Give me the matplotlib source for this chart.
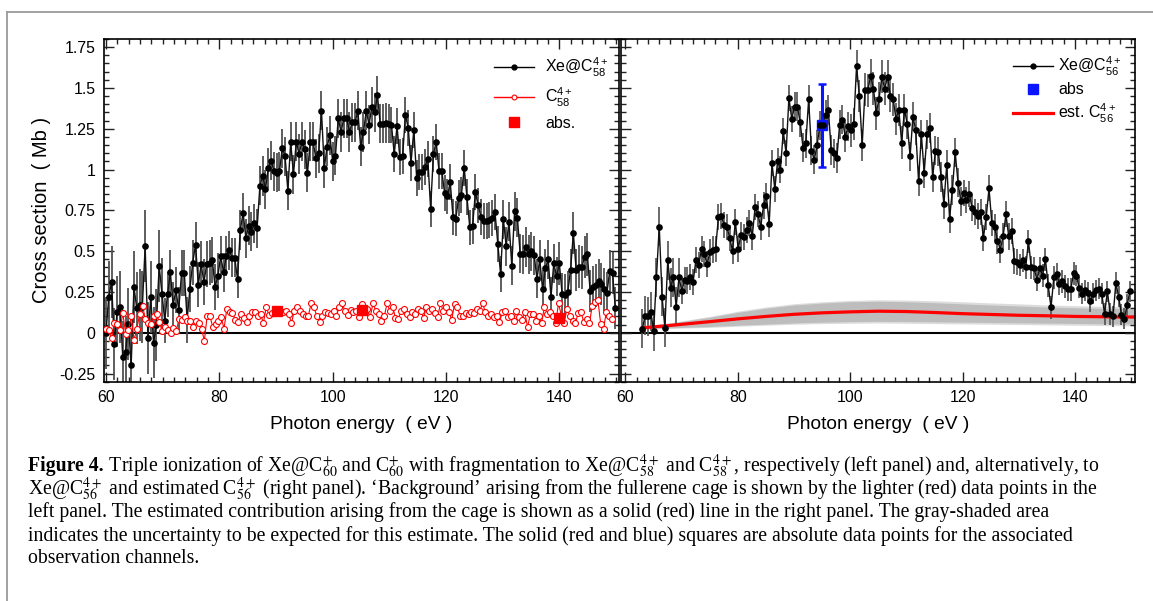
import numpy as np
import matplotlib
matplotlib.use("Agg")
import matplotlib.pyplot as plt
from matplotlib.lines import Line2D
from matplotlib.ticker import MultipleLocator, FuncFormatter

plt.rcParams['font.family'] = ['Liberation Sans', 'DejaVu Sans']
plt.rcParams['mathtext.fontset'] = 'custom'
plt.rcParams['mathtext.rm'] = 'Liberation Sans'
plt.rcParams['mathtext.it'] = 'Liberation Sans:italic'
plt.rcParams['axes.unicode_minus'] = False

# ---------------- data ----------------
left_xe_y = [0.0, 0.22, 0.31, -0.07, 0.13, 0.16, -0.15, -0.12, 0.055, -0.2,
             0.28, 0.15, 0.17, 0.16, 0.53, -0.03, 0.22, -0.06, 0.045, 0.41,
             0.24, 0.075, 0.235, 0.37, 0.17, 0.26, 0.14, 0.365, 0.365, 0.08,
             0.27, 0.43, 0.54, 0.295, 0.42, 0.31, 0.42, 0.43, 0.445, 0.28,
             0.35, 0.47, 0.37, 0.47, 0.505, 0.46, 0.46, 0.33, 0.63, 0.735,
             0.58, 0.655, 0.62, 0.67, 0.64, 0.9, 0.96, 0.88, 1.01, 1.055,
             0.99, 0.98, 0.99, 1.13, 1.08, 0.87, 1.17, 0.97, 1.17, 1.095,
             1.17, 1.125, 0.98, 1.17, 1.17, 1.07, 1.1, 1.36, 1.01, 1.14,
             1.21, 1.05, 1.085, 1.315, 1.23, 1.315, 1.315, 1.23, 1.29, 1.29,
             1.36, 1.14, 1.23, 1.36, 1.275, 1.385, 1.35, 1.455, 1.28, 1.28,
             1.285, 1.28, 1.275, 1.095, 1.265, 1.075, 1.085, 1.335, 1.255, 1.04,
             1.245, 0.95, 0.985, 0.985, 1.015, 1.065, 0.76, 1.095, 1.17, 0.99,
             0.99, 0.855, 0.835, 0.925, 0.71, 0.70, 0.825, 0.845, 1.01, 0.83,
             0.645, 0.655, 0.86, 0.78, 0.71, 0.685, 0.685, 0.69, 0.705, 0.74,
             0.545, 0.36, 0.695, 0.53, 0.68, 0.41, 0.745, 0.705, 0.485, 0.48,
             0.525, 0.48, 0.5, 0.475, 0.33, 0.45, 0.265, 0.395, 0.45, 0.22,
             0.425, 0.345, 0.425, 0.235, 0.23, 0.25, 0.385, 0.61, 0.385, 0.405,
             0.4, 0.465, 0.48, 0.255, 0.28, 0.29, 0.32, 0.3, 0.265, 0.245,
             0.38, 0.365, 0.15]
left_xe_range = (60.0, 149.9)
left_xe_err_bins = [0.22, 0.14, 0.12, 0.12, 0.12, 0.11, 0.11, 0.12, 0.13, 0.14]

left_c58_y = [0.025, 0.015, -0.035, 0.06, 0.055, 0.015, 0.12, -0.005, 0.015, 0.1,
              -0.045, 0.025, 0.115, 0.165, 0.085, 0.06, 0.055, 0.105, 0.115, 0.065,
              0.01, 0.035, 0.015, 0.0, 0.03, 0.01, 0.085, 0.08, 0.095, 0.075,
              0.07, 0.035, 0.075, 0.06, 0.025, -0.05, 0.105, 0.1, 0.035, 0.055,
              0.075, 0.095, 0.025, 0.145, 0.125, 0.12, 0.08, 0.065, 0.115, 0.09,
              0.065, 0.105, 0.125, 0.125, 0.1, 0.115, 0.06, 0.155, 0.11, 0.12,
              0.125, 0.14, 0.135, 0.125, 0.135, 0.115, 0.06, 0.135, 0.16, 0.135,
              0.115, 0.1, 0.105, 0.18, 0.16, 0.1, 0.065, 0.1, 0.125, 0.12,
              0.115, 0.135, 0.105, 0.16, 0.18, 0.135, 0.11, 0.14, 0.125, 0.135,
              0.095, 0.175, 0.125, 0.145, 0.095, 0.18, 0.135, 0.115, 0.075, 0.1,
              0.18, 0.135, 0.16, 0.09, 0.085, 0.135, 0.145, 0.115, 0.095, 0.125,
              0.115, 0.145, 0.135, 0.09, 0.16, 0.135, 0.145, 0.12, 0.095, 0.18,
              0.135, 0.16, 0.125, 0.08, 0.175, 0.155, 0.105, 0.1, 0.12, 0.115,
              0.125, 0.12, 0.145, 0.135, 0.18, 0.125, 0.105, 0.115, 0.095, 0.105,
              0.065, 0.125, 0.135, 0.095, 0.105, 0.075, 0.135, 0.095, 0.08, 0.125,
              0.035, 0.115, 0.115, 0.075, 0.105, 0.06, 0.16, 0.115, 0.13, 0.105,
              0.06, 0.18, 0.105, 0.06, 0.145, 0.105, 0.075, 0.06, 0.12, 0.125,
              0.065, 0.085, 0.06, 0.165, 0.19, 0.2, 0.055, 0.025, 0.125, 0.105,
              0.085]
left_c58_range = (60.0, 149.3)

left_abs_x = [90.2, 105.2, 140.0]
left_abs_y = [0.132, 0.138, 0.088]

right_xe_y = [0.025, 0.105, 0.1, 0.13, 0.01, 0.34, 0.65, 0.22, 0.03, 0.445,
              0.275, 0.34, 0.16, 0.34, 0.255, 0.325, 0.32, 0.34, 0.31, 0.445,
              0.415, 0.515, 0.48, 0.42, 0.495, 0.51, 0.515, 0.71, 0.715, 0.66,
              0.65, 0.58, 0.5, 0.68, 0.515, 0.6, 0.585, 0.63, 0.67, 0.59,
              0.77, 0.725, 0.65, 0.78, 0.84, 0.665, 1.04, 0.88, 1.055, 1.0,
              1.235, 1.1, 1.44, 1.31, 1.385, 1.385, 1.29, 1.135, 1.16, 1.43,
              1.115, 1.06, 1.15, 1.27, 1.275, 1.335, 1.365, 1.12, 1.1, 1.07,
              1.275, 1.305, 1.2, 1.265, 1.24, 1.28, 1.635, 1.45, 1.15, 1.49,
              1.485, 1.575, 1.495, 1.345, 1.435, 1.57, 1.495, 1.57, 1.45, 1.43,
              1.31, 1.365, 1.165, 1.365, 1.28, 1.08, 1.325, 1.24, 0.93, 1.215,
              0.98, 1.215, 1.255, 0.955, 1.115, 1.11, 0.955, 0.79, 1.03, 0.7,
              0.875, 1.105, 0.92, 0.805, 0.855, 0.815, 0.85, 0.765, 0.74, 0.715,
              0.74, 0.58, 0.71, 0.885, 0.67, 0.645, 0.565, 0.51, 0.59, 0.725,
              0.59, 0.625, 0.44, 0.435, 0.415, 0.445, 0.4, 0.56, 0.4, 0.395,
              0.325, 0.395, 0.35, 0.45, 0.29, 0.155, 0.34, 0.36, 0.3, 0.315,
              0.285, 0.265, 0.265, 0.365, 0.35, 0.275, 0.24, 0.26, 0.245, 0.195,
              0.24, 0.26, 0.27, 0.24, 0.115, 0.255, 0.115, 0.1, 0.305, 0.22,
              0.11, 0.085, 0.17, 0.255]
right_xe_range = (63.0, 149.8)
right_xe_err_bins = [0.12, 0.08, 0.08, 0.09, 0.1, 0.09, 0.08, 0.07, 0.065, 0.065]

right_abs_x = [95.0]
right_abs_y = [1.272]
right_abs_err = [0.255]

est_x = [63, 68, 75, 80, 85, 90, 95, 100, 105, 110, 115, 120, 125, 130, 135, 140, 145, 150.7]
est_y = [0.03, 0.045, 0.068, 0.085, 0.1, 0.113, 0.122, 0.128, 0.132, 0.13, 0.124,
         0.117, 0.112, 0.107, 0.104, 0.1, 0.098, 0.096]
band_hi = [0.04, 0.058, 0.095, 0.125, 0.15, 0.17, 0.182, 0.19, 0.193, 0.19, 0.184,
           0.177, 0.17, 0.164, 0.158, 0.153, 0.149, 0.146]
band_lo = [0.025, 0.03, 0.038, 0.046, 0.053, 0.06, 0.065, 0.068, 0.07, 0.069, 0.067,
           0.065, 0.063, 0.061, 0.059, 0.057, 0.055, 0.053]
band2_hi = [0.042, 0.062, 0.1, 0.132, 0.158, 0.178, 0.19, 0.198, 0.202, 0.2, 0.196,
            0.19, 0.183, 0.177, 0.171, 0.166, 0.162, 0.158]
band2_lo = [0.023, 0.027, 0.033, 0.04, 0.046, 0.052, 0.056, 0.058, 0.06, 0.058, 0.056,
            0.054, 0.052, 0.05, 0.048, 0.046, 0.044, 0.042]

yticks = [-0.25, 0, 0.25, 0.5, 0.75, 1, 1.25, 1.5, 1.75]
xticks = [60, 80, 100, 120, 140]

# ---------------- figure ----------------
W, H = 1153, 601
fig = plt.figure(figsize=(W / 100, H / 100), dpi=100)


def px_axes(x0, y0, x1, y1):
    return fig.add_axes([x0 / W, 1 - y1 / H, (x1 - x0) / W, (y1 - y0) / H])


axL = px_axes(103.7, 39, 619.3, 381.7)
axR = px_axes(621, 39, 1135, 381.7)

# outer gray frame
fig.add_artist(Line2D([7 / W, 7 / W], [0, 1 - 12 / H], color='#9a9a9a', lw=1.3,
                      transform=fig.transFigure))
fig.add_artist(Line2D([7 / W, 1], [1 - 12 / H, 1 - 12 / H], color='#9a9a9a', lw=1.3,
                      transform=fig.transFigure))


def bin_err(x, bins):
    idx = np.clip(((np.asarray(x) - 60) // 10).astype(int), 0, len(bins) - 1)
    return np.asarray(bins)[idx]


def style_axes(ax, xlim, show_ylabels):
    ax.set_xlim(*xlim)
    ax.set_ylim(-0.3, 1.8)
    ax.set_xticks(xticks)
    ax.set_yticks(yticks)
    ax.xaxis.set_minor_locator(MultipleLocator(2))
    ax.yaxis.set_minor_locator(MultipleLocator(0.05))
    ax.yaxis.set_major_formatter(FuncFormatter(lambda v, p: '%g' % v))
    ax.tick_params(which='both', direction='in', top=True, right=True,
                   labelsize=11.4, width=1.0, color='#222222')
    ax.tick_params(which='major', length=7, pad=6)
    ax.tick_params(which='minor', length=3.5)
    if not show_ylabels:
        ax.tick_params(axis='y', labelleft=False)
    for s in ax.spines.values():
        s.set_linewidth(1.2)
    ax.axhline(0, color='black', lw=1.5, zorder=1.5)
    ax.set_xlabel('Photon energy  ( eV )', fontsize=13.8, labelpad=8)


# ---- left panel ----
xl = np.linspace(left_xe_range[0], left_xe_range[1], len(left_xe_y))
xc = np.linspace(left_c58_range[0], left_c58_range[1], len(left_c58_y))
axL.errorbar(xl, left_xe_y, yerr=bin_err(xl, left_xe_err_bins), fmt='none',
             ecolor='#505050', elinewidth=1.3, zorder=2)
axL.plot(xl, left_xe_y, '-', color='#111111', lw=1.0, zorder=3)
axL.plot(xl, left_xe_y, 'o', color='black', ms=4.8, mew=0, zorder=4)
axL.plot(xc, left_c58_y, '-', color='red', lw=0.8, zorder=5)
axL.plot(xc, left_c58_y, 'o', color='red', mfc='white', ms=4.3, mew=0.8, zorder=6)
axL.plot(left_abs_x, left_abs_y, 's', color='red', ms=7.5, zorder=7)
style_axes(axL, (59.6, 150.6), True)
axL.set_ylabel('Cross section  ( Mb )', fontsize=14.5, labelpad=6)

hL = [Line2D([], [], color='black', lw=1.0, marker='o', ms=3.5),
      Line2D([], [], color='red', lw=1.0, marker='o', ms=3.5, mfc='white', mew=0.8),
      Line2D([], [], color='red', lw=0, marker='s', ms=7.5)]
labL = ['Xe@C$_{58}^{4+}$', 'C$_{58}^{4+}$', 'abs.']
legL = axL.legend(hL, labL, loc='upper left', bbox_to_anchor=(0.757, 0.95),
                  frameon=False, fontsize=11.5, handlelength=2.5, handletextpad=0.7,
                  labelspacing=0.42, borderpad=0, borderaxespad=0)

# ---- right panel ----
xr = np.linspace(right_xe_range[0], right_xe_range[1], len(right_xe_y))
axR.fill_between(est_x, band2_lo, band2_hi, color='#dcdcdc', lw=0, zorder=1)
axR.fill_between(est_x, band_lo, band_hi, color='#bdbdbd', lw=0, zorder=1.2)
axR.plot(est_x, est_y, '-', color='#ff0000', lw=2.3, zorder=2.5)
axR.errorbar(xr, right_xe_y, yerr=bin_err(xr, right_xe_err_bins), fmt='none',
             ecolor='#505050', elinewidth=1.2, zorder=2)
axR.plot(xr, right_xe_y, '-', color='#111111', lw=1.0, zorder=3)
axR.plot(xr, right_xe_y, 'o', color='black', ms=4.8, mew=0, zorder=4)
axR.errorbar(right_abs_x, right_abs_y, yerr=right_abs_err, fmt='s', color='#0a14ff',
             ms=7.5, elinewidth=2.2, capsize=3, capthick=1.8, zorder=3.5)
style_axes(axR, (59.2, 150.7), False)

hR = [Line2D([], [], color='black', lw=1.0, marker='o', ms=3.5),
      Line2D([], [], color='#0a14ff', lw=0, marker='s', ms=7.5),
      Line2D([], [], color='red', lw=2.3)]
labR = ['Xe@C$_{56}^{4+}$', 'abs', 'est. C$_{56}^{4+}$']
legR = axR.legend(hR, labR, loc='upper left', bbox_to_anchor=(0.762, 0.955),
                  frameon=False, fontsize=11.5, handlelength=2.5, handletextpad=0.35,
                  labelspacing=0.3, borderpad=0, borderaxespad=0)

# ---------------- caption ----------------
cap_font = ['Liberation Serif', 'DejaVu Serif']
cap_size = 14.2
cap_x = 28
cap_y0 = 466
cap_dy = 23.2
caption_lines = [
    r" Triple ionization of Xe@C$_{60}^{+}$ and C$_{60}^{+}$ with fragmentation to "
    r"Xe@C${}_{58}^{4+}$ and C$_{58}^{4+}$, respectively (left panel) and, alternatively, to",
    r"Xe@C${}_{56}^{4+}$ and estimated C$_{56}^{4+}$ (right panel). ‘Background’ arising from "
    r"the fullerene cage is shown by the lighter (red) data points in the",
    "left panel. The estimated contribution arising from the cage is shown as a solid (red) "
    "line in the right panel. The gray-shaded area",
    "indicates the uncertainty to be expected for this estimate. The solid (red and blue) "
    "squares are absolute data points for the associated",
    "observation channels.",
]


def ftext(x, y, s, **kw):
    return fig.text(x / W, 1 - y / H, s, va='center', ha='left', family=cap_font,
                    fontsize=cap_size, math_fontfamily='stix', **kw)


renderer = fig.canvas.get_renderer()
tb = ftext(cap_x, cap_y0, 'Figure 4.', weight='bold')
x_after = tb.get_window_extent(renderer).x1
for i, line in enumerate(caption_lines):
    x = x_after if i == 0 else cap_x
    ftext(x, cap_y0 + i * cap_dy, line)

fig.savefig('out.png', dpi=100)
